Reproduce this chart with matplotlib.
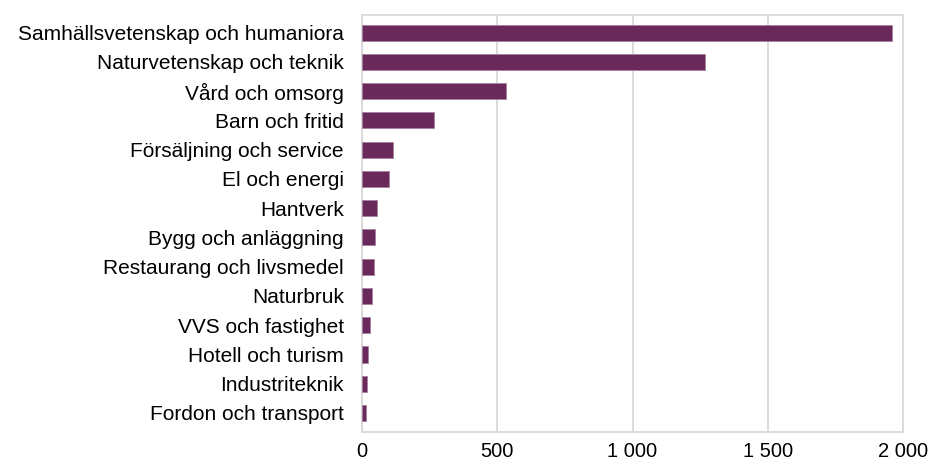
import matplotlib.pyplot as plt
from matplotlib.ticker import FuncFormatter

plt.rcParams['font.family'] = ['Liberation Sans', 'DejaVu Sans']

# utbildningsområden och antal
kategorier = ['Samhällsvetenskap och humaniora', 'Naturvetenskap och teknik',
              'Vård och omsorg', 'Barn och fritid', 'Försäljning och service',
              'El och energi', 'Hantverk', 'Bygg och anläggning',
              'Restaurang och livsmedel', 'Naturbruk', 'VVS och fastighet',
              'Hotell och turism', 'Industriteknik', 'Fordon och transport']
antal = [1961, 1267, 534, 265, 115, 100, 57, 48, 44, 36, 28, 22, 18, 16]
xticks = [0, 500, 1000, 1500, 2000]

fig = plt.figure(figsize=(9.29, 4.62), dpi=100)
ax = fig.add_axes([362/929, 1 - 432/462, 541/929, 417/462])

ax.barh(range(len(kategorier)), antal, height=0.55, color='#6a295b',
        edgecolor='#a680a0', linewidth=0.6, zorder=3)

ax.set_yticks(range(len(kategorier)))
ax.set_yticklabels(kategorier, fontsize=15)
ax.set_ylim(len(kategorier) - 0.35, -0.6)

ax.set_xlim(0, 2000)
ax.set_xticks(xticks)
ax.xaxis.set_major_formatter(FuncFormatter(lambda v, p: f'{int(v):,}'.replace(',', ' ')))
ax.tick_params(axis='x', labelsize=14.5, length=0, pad=7)
ax.tick_params(axis='y', length=0, pad=13)

ax.grid(axis='x', color='#d9d9d9', linewidth=1.3, zorder=0)
for s in ax.spines.values():
    s.set_color('#d9d9d9')
    s.set_linewidth(1.3)

fig.savefig('out.png', dpi=100)
